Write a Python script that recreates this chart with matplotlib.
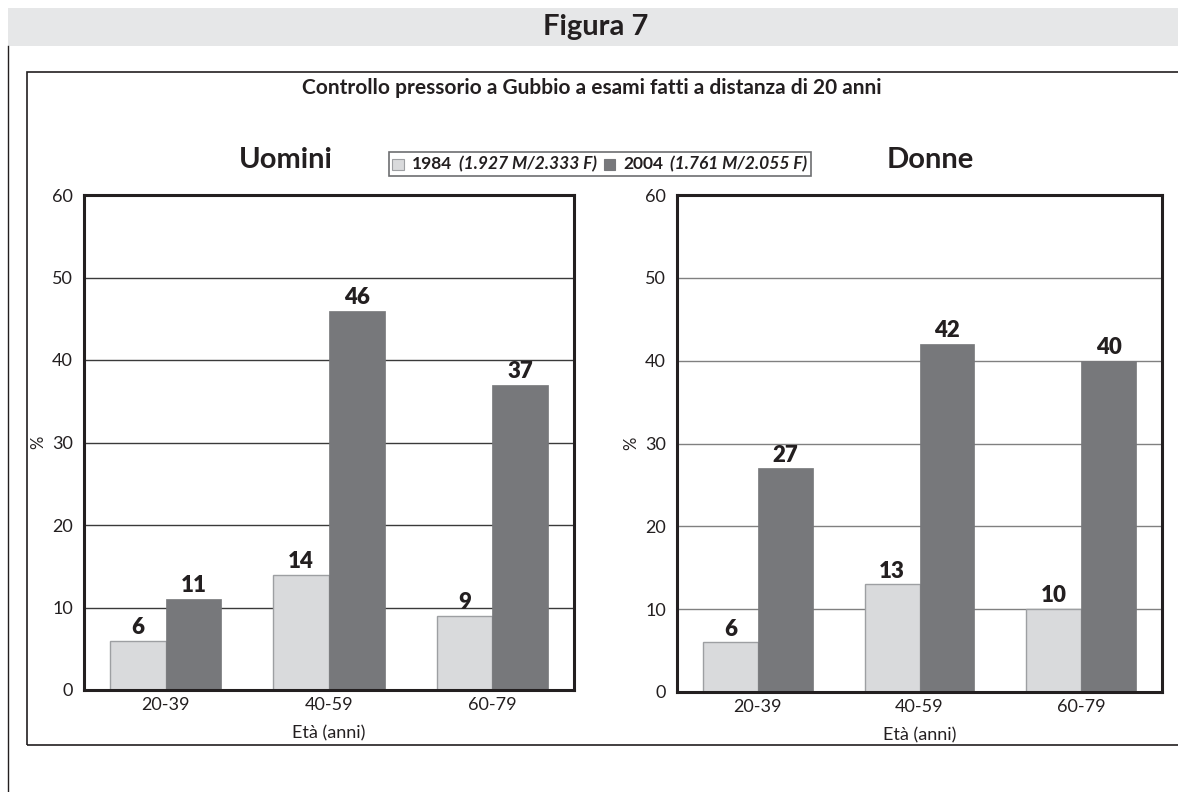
import matplotlib
matplotlib.use("Agg")
import matplotlib.pyplot as plt
from matplotlib.patches import Rectangle
from matplotlib.lines import Line2D
from matplotlib.offsetbox import TextArea, DrawingArea, HPacker, AnchoredOffsetbox
import numpy as np

plt.rcParams['font.family'] = ['Lato', 'DejaVu Sans']

# Data
categories = ["20-39", "40-59", "60-79"]
uomini_1984 = [6, 14, 9]
uomini_2004 = [11, 46, 37]
donne_1984 = [6, 13, 10]
donne_2004 = [27, 42, 40]
series_names = ["1984", "2004"]
series_notes = ["(1.927 M/2.333 F)", "(1.761 M/2.055 F)"]
yticks = [0, 10, 20, 30, 40, 50, 60]

LIGHT = "#d9dadc"
LIGHT_EDGE = "#9d9fa2"
DARK = "#77787b"
INK = "#231f20"

W, H = 1178, 792
fig = plt.figure(figsize=(W / 100, H / 100), dpi=100)
fig.patch.set_facecolor("white")

def fx(px):
    return px / W

def fy(py):
    return 1 - py / H

# Header band
fig.patches.append(Rectangle((fx(8), fy(46)), 1 - fx(8), fy(8) - fy(46),
                             transform=fig.transFigure, facecolor="#e6e7e8",
                             edgecolor="none", zorder=0))
fig.text(fx(596), fy(27), "Figura 7", ha="center", va="center",
         fontsize=21, fontweight="bold", color=INK)
fig.lines.append(Line2D([fx(8), fx(8)], [0, fy(46)], transform=fig.transFigure,
                        color=INK, lw=1.0))

# Outer box around the chart
fig.patches.append(Rectangle((fx(27), fy(745)), 1.05 - fx(27), fy(72) - fy(745),
                             transform=fig.transFigure, facecolor="none",
                             edgecolor=INK, lw=1.2, zorder=1))
fig.text(fx(592), fy(88), "Controllo pressorio a Gubbio a esami fatti a distanza di 20 anni",
         ha="center", va="center", fontsize=15, fontweight="bold", color=INK)


def draw_panel(rect, v1984, v2004, title, title_x, grid_color):
    ax = fig.add_axes(rect)
    x = np.arange(len(categories))
    w = 0.34
    ax.bar(x - w / 2, v1984, width=w, color=LIGHT, edgecolor=LIGHT_EDGE,
           linewidth=1.0, zorder=3)
    ax.bar(x + w / 2, v2004, width=w, color=DARK, edgecolor=DARK,
           linewidth=0.5, zorder=3)
    for xs, vals in ((x - w / 2, v1984), (x + w / 2, v2004)):
        for xi, v in zip(xs, vals):
            ax.annotate(str(v), (xi, v), xytext=(0, 2), textcoords="offset points",
                        ha="center", va="bottom", fontsize=16, fontweight="heavy",
                        color=INK, zorder=4)
    ax.set_xlim(-0.5, len(categories) - 0.5)
    ax.set_ylim(0, 60)
    ax.set_yticks(yticks)
    ax.set_xticks(x)
    ax.set_xticklabels(categories)
    ax.tick_params(axis="both", length=0, labelsize=13, colors=INK, pad=8)
    ax.tick_params(axis="x", pad=5)
    ax.yaxis.grid(True, color=grid_color, lw=1.0, zorder=1)
    ax.set_axisbelow(True)
    for s in ax.spines.values():
        s.set_color(INK)
        s.set_linewidth(2.2)
        s.set_zorder(5)
    ax.set_ylabel("%", fontsize=12, color=INK, labelpad=4)
    ax.set_xlabel("Età (anni)", fontsize=13, color=INK, labelpad=9)
    fig.text(title_x, fy(160), title, ha="center", va="center",
             fontsize=21, fontweight="bold", color=INK)
    return ax


draw_panel([fx(84), fy(690), fx(574) - fx(84), fy(195) - fy(690)],
           uomini_1984, uomini_2004, "Uomini", fx(286), "#3a3a3a")
draw_panel([fx(677), fy(692), fx(1162) - fx(677), fy(195) - fy(692)],
           donne_1984, donne_2004, "Donne", fx(930), "#808080")

# Legend with mixed bold / bold-italic text
items = []
for name, note, col, edge in zip(series_names, series_notes, [LIGHT, DARK], [LIGHT_EDGE, DARK]):
    da = DrawingArea(9, 9, 0, 0)
    da.add_artist(Rectangle((0, 0), 8, 8, facecolor=col, edgecolor=edge, lw=0.8))
    items.append(da)
    items.append(TextArea(name, textprops=dict(fontsize=12.5, fontweight="bold", color=INK)))
    items.append(TextArea(note, textprops=dict(fontsize=12.5, fontweight="bold",
                                               fontstyle="italic", color=INK)))
pack = HPacker(children=items, align="center", pad=0, sep=5)
leg = AnchoredOffsetbox(loc="center", child=pack, pad=0.25, borderpad=0,
                        frameon=True, bbox_to_anchor=(fx(600), fy(164)),
                        bbox_transform=fig.transFigure)
leg.patch.set_edgecolor("#6d6e71")
leg.patch.set_linewidth(1.2)
leg.patch.set_facecolor("white")
fig.add_artist(leg)

fig.savefig("out.png", dpi=100, facecolor="white")
